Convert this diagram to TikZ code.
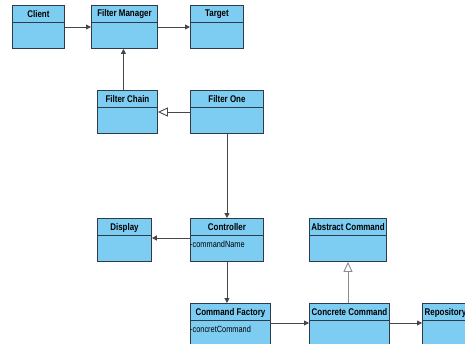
\documentclass[tikz,border=0pt]{standalone}
\usepackage{fontspec}
\newfontfamily\hdfont{Liberation Sans}[FakeStretch=0.82]
\usetikzlibrary{arrows.meta}
\definecolor{boxfill}{RGB}{125,205,242}
\definecolor{boxline}{RGB}{45,60,72}
\definecolor{conn}{RGB}{70,70,70}
\definecolor{genline}{RGB}{140,140,140}
\tikzset{
  cls/.style={draw=boxline, fill=boxfill, line width=0.9pt, anchor=north west, inner sep=0pt, minimum height=43pt},
  ttl/.style={font=\hdfont\bfseries\fontsize{9.7}{10}\selectfont, inner sep=0pt, text=black},
  attr/.style={font=\hdfont\fontsize{9}{10}\selectfont, inner sep=0pt, anchor=west, text=black},
  assoc/.style={draw=conn, line width=0.9pt, -{Triangle[length=5pt,width=5pt]}},
  gen/.style={line width=0.9pt, -{Triangle[open,length=10pt,width=9pt,fill=white]}},
}
\newcommand{\umlbox}[5]{%
  \node[cls, minimum width=#4pt] (#1) at (#2,#3) {};
  \draw[boxline, line width=0.9pt] ([yshift=-17pt]#1.north west) -- ([yshift=-17pt]#1.north east);
  \node[ttl] (#1-t) at ([yshift=-9.5pt]#1.north) {#5};
}
\begin{document}
\begin{tikzpicture}[x=1pt,y=-1pt]
\useasboundingbox (0,0) rectangle (465,343);
\begin{scope}
\clip (0,0) rectangle (465,343);
\umlbox{client}{12}{5}{52}{Client}
\umlbox{fm}{91}{5}{66}{Filter Manager}
\umlbox{target}{190}{5}{53}{Target}
\umlbox{fchain}{97}{90}{60}{Filter Chain}
\umlbox{fone}{190}{90}{73}{Filter One}
\umlbox{display}{97}{218}{54}{Display}
\umlbox{ctrl}{190}{218}{73}{Controller}
\umlbox{abs}{309}{218}{77}{Abstract Command}
\umlbox{cf}{190}{303}{80}{Command Factory}
\umlbox{cc}{309}{303}{80}{Concrete Command}
\umlbox{repo}{422}{303}{46}{Repository}
\node[attr] (ctrl-a) at ([yshift=-26pt]ctrl.north west) {-commandName};
\node[attr] (cf-a) at ([yshift=-26pt]cf.north west) {-concretCommand};
\end{scope}
\draw[assoc] ([yshift=-22pt]client.north east) -- ([yshift=-22pt]fm.north west);
\draw[assoc] ([yshift=-22pt]fm.north east) -- ([yshift=-22pt]target.north west);
\draw[assoc] (fchain.north) ++(-4pt,0) coordinate (fcn) -- (fcn |- fm.south);
\draw[gen, draw=conn] ([yshift=-22pt]fone.north west) -- ([yshift=-22pt]fchain.north east);
\draw[assoc] (fone.south) -- (ctrl.north);
\draw[assoc] ([yshift=-20pt]ctrl.north west) -- ([yshift=-20pt]display.north east);
\draw[assoc] (ctrl.south) -- (ctrl.south |- cf.north);
\draw[assoc] ([yshift=-20pt]cf.north east) -- ([yshift=-20pt]cc.north west);
\draw[assoc] ([yshift=-20pt]cc.north east) -- ([yshift=-20pt]repo.north west);
\draw[gen, draw=genline] (cc.north -| abs.south) -- (abs.south);
\end{tikzpicture}
\end{document}
